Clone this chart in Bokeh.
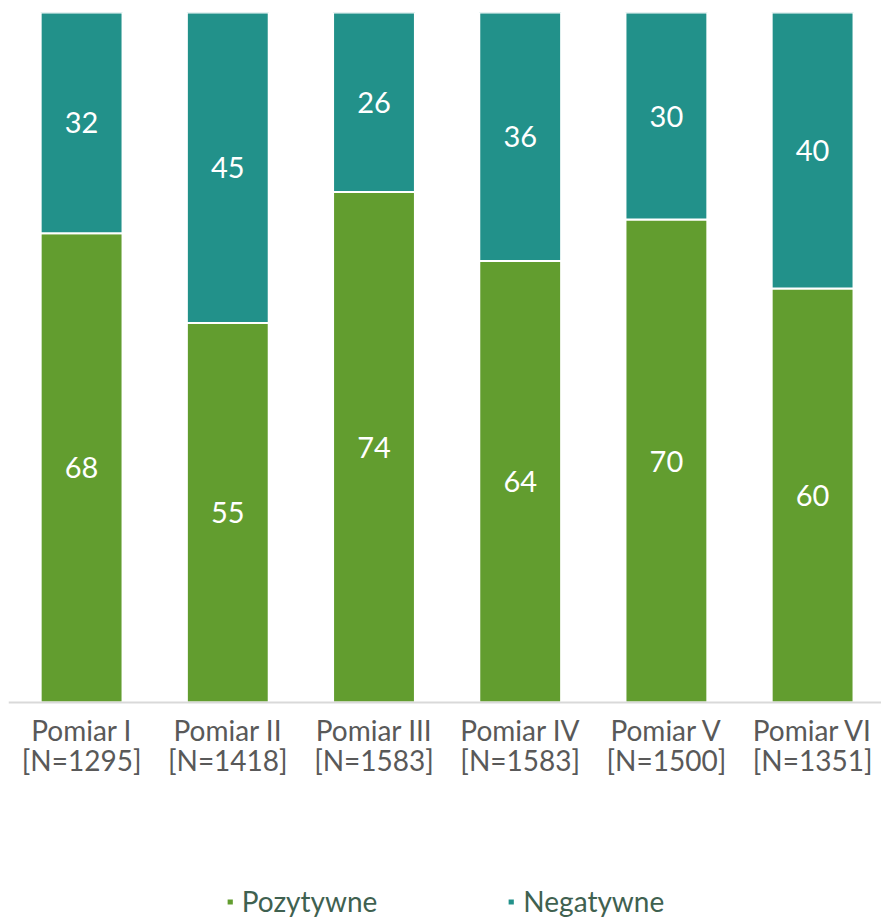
from bokeh.plotting import figure
from bokeh.models import ColumnDataSource, Legend, LegendItem, Range1d, FixedTicker, LabelSet
from bokeh.core.properties import value
from bokeh.embed import file_html
from bokeh.resources import INLINE

categories = ["Pomiar I\n[N=1295]", "Pomiar II\n[N=1418]", "Pomiar III\n[N=1583]",
              "Pomiar IV\n[N=1583]", "Pomiar V\n[N=1500]", "Pomiar VI\n[N=1351]"]
pozytywne = [68, 55, 74, 64, 70, 60]
negatywne = [32, 45, 26, 36, 30, 40]
series_names = ["Pozytywne", "Negatywne"]
colors = ["#629D2F", "#22918A"]

FONT = "Lato"
xs = [i + 0.5 for i in range(len(categories))]
src = ColumnDataSource(dict(
    x=xs,
    pos=pozytywne,
    neg_top=[a + b for a, b in zip(pozytywne, negatywne)],
    pos_mid=[a / 2 for a in pozytywne],
    neg_mid=[a + b / 2 for a, b in zip(pozytywne, negatywne)],
    pos_lbl=[str(v) for v in pozytywne],
    neg_lbl=[str(v) for v in negatywne],
    zero=[0] * len(categories),
))

p = figure(width=881, height=918, output_backend="svg", toolbar_location=None,
           min_border_left=8, min_border_right=0, min_border_top=12, min_border_bottom=0,
           outline_line_color=None)
p.x_range = Range1d(0, 873 / 146.2)
p.y_range = Range1d(-216 / 6.9, 100)

r1 = p.vbar(x="x", bottom="zero", top="pos", width=0.56, source=src,
            fill_color=colors[0], line_color="white", line_width=2)
r2 = p.vbar(x="x", bottom="pos", top="neg_top", width=0.56, source=src,
            fill_color=colors[1], line_color="white", line_width=2)

for ycol, tcol in (("pos_mid", "pos_lbl"), ("neg_mid", "neg_lbl")):
    p.add_layout(LabelSet(x="x", y=ycol, text=tcol, source=src, text_color="white",
                          text_font=value(FONT), text_font_size="29px",
                          text_align="center", text_baseline="middle"))

p.yaxis.visible = False
p.grid.visible = False
ax = p.xaxis[0]
ax.fixed_location = 0
ax.ticker = FixedTicker(ticks=xs)
ax.major_label_overrides = {x: c for x, c in zip(xs, categories)}
ax.major_tick_line_color = None
ax.minor_tick_line_color = None
ax.axis_line_color = "#D9D9D9"
ax.axis_line_width = 2
ax.major_label_text_font = FONT
ax.major_label_text_font_size = "28px"
ax.major_label_text_color = "#595959"
ax.major_label_text_line_height = 0.9
ax.major_label_standoff = 4

legend = Legend(items=[LegendItem(label=series_names[0], renderers=[r1]),
                       LegendItem(label=series_names[1], renderers=[r2])],
                orientation="horizontal", location="bottom_center",
                label_text_font=FONT, label_text_font_size="28px",
                label_text_color="#3F6150", glyph_width=9, glyph_height=9,
                spacing=129, border_line_color=None, background_fill_alpha=0,
                label_standoff=8, padding=0, margin=0)
p.add_layout(legend, "center")

open("out.html", "w").write(file_html(p, INLINE))
